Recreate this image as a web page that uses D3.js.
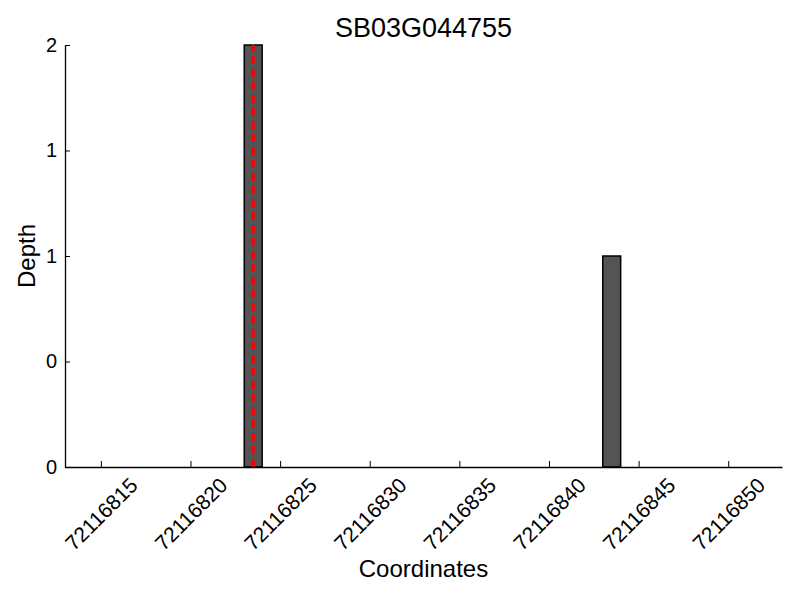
<!DOCTYPE html>
<html>
<head>
<meta charset="utf-8">
<script src="https://cdn.jsdelivr.net/npm/d3@7"></script>
<style>
  body { margin: 0; background: #fff; }
  text { font-family: "Liberation Sans", Arial, Helvetica, sans-serif; fill: #000; }
</style>
</head>
<body>
<div id="chart"></div>
<script>
// data
var title = "SB03G044755";
var positions = [72116823, 72116843];
var depths = [2, 1];
var markerPositions = [72116823];
var xDomain = [72116813, 72116853];
var xTicks = [72116815, 72116820, 72116825, 72116830, 72116835, 72116840, 72116845, 72116850];
var yTicks = [0, 0.5, 1, 1.5, 2];
var yTickLabels = ["0", "0", "1", "1", "2"];

var width = 800, height = 600;
var margin = {top: 45, right: 18, bottom: 133, left: 65};
var w = width - margin.left - margin.right,
    h = height - margin.top - margin.bottom;

var svg = d3.select("#chart").append("svg")
    .attr("width", width)
    .attr("height", height);

var g = svg.append("g")
    .attr("transform", "translate(" + margin.left + "," + margin.top + ")");

var x = d3.scaleLinear().domain(xDomain).range([0, w]);
var y = d3.scaleLinear().domain([0, 2]).range([h, 0]);

// bars
var bars = positions.map(function (p, i) { return {pos: p, depth: depths[i]}; });
g.selectAll(".bar")
    .data(bars)
    .enter().append("rect")
    .attr("class", "bar")
    .attr("x", function (d) { return x(d.pos); })
    .attr("y", function (d) { return y(d.depth); })
    .attr("width", function (d) { return x(d.pos + 1) - x(d.pos); })
    .attr("height", function (d) { return y(0) - y(d.depth); })
    .attr("fill", "#545454")
    .attr("stroke", "#000")
    .attr("stroke-width", 1.5);

// red dashed markers
g.selectAll(".marker")
    .data(markerPositions)
    .enter().append("line")
    .attr("class", "marker")
    .attr("x1", function (d) { return x(d + 0.5); })
    .attr("x2", function (d) { return x(d + 0.5); })
    .attr("y1", y(0))
    .attr("y2", y(2))
    .attr("stroke", "#ff0000")
    .attr("stroke-width", 3)
    .attr("stroke-dasharray", "8,5");

// x axis (ticks pointing inward)
var xAxis = g.append("g")
    .attr("transform", "translate(0," + h + ")")
    .call(d3.axisBottom(x).tickValues(xTicks).tickSizeInner(-6).tickSizeOuter(0).tickFormat(""));
xAxis.select(".domain").attr("stroke-width", 1.3);
xAxis.selectAll(".tick line").attr("stroke-width", 1);

xAxis.selectAll(".tick").append("text")
    .attr("transform", "translate(0,47) rotate(-45)")
    .attr("text-anchor", "middle")
    .attr("dy", "0.35em")
    .style("font-size", "21px")
    .text(function (d) { return d; });

// y axis
var yAxis = g.append("g")
    .call(d3.axisLeft(y).tickValues(yTicks).tickSizeInner(-5).tickSizeOuter(0)
        .tickFormat(function (d, i) { return yTickLabels[i]; }));
yAxis.select(".domain").attr("stroke-width", 1.3);
yAxis.selectAll(".tick text")
    .attr("x", -8)
    .style("font-size", "20px")
    .attr("fill", "#000");

// titles
svg.append("text")
    .attr("x", margin.left + w / 2)
    .attr("y", 37)
    .attr("text-anchor", "middle")
    .style("font-size", "27px")
    .text(title);

svg.append("text")
    .attr("x", margin.left + w / 2)
    .attr("y", 577)
    .attr("text-anchor", "middle")
    .style("font-size", "24px")
    .text("Coordinates");

svg.append("text")
    .attr("transform", "translate(35," + (margin.top + h / 2) + ") rotate(-90)")
    .attr("text-anchor", "middle")
    .style("font-size", "24px")
    .text("Depth");
</script>
</body>
</html>
